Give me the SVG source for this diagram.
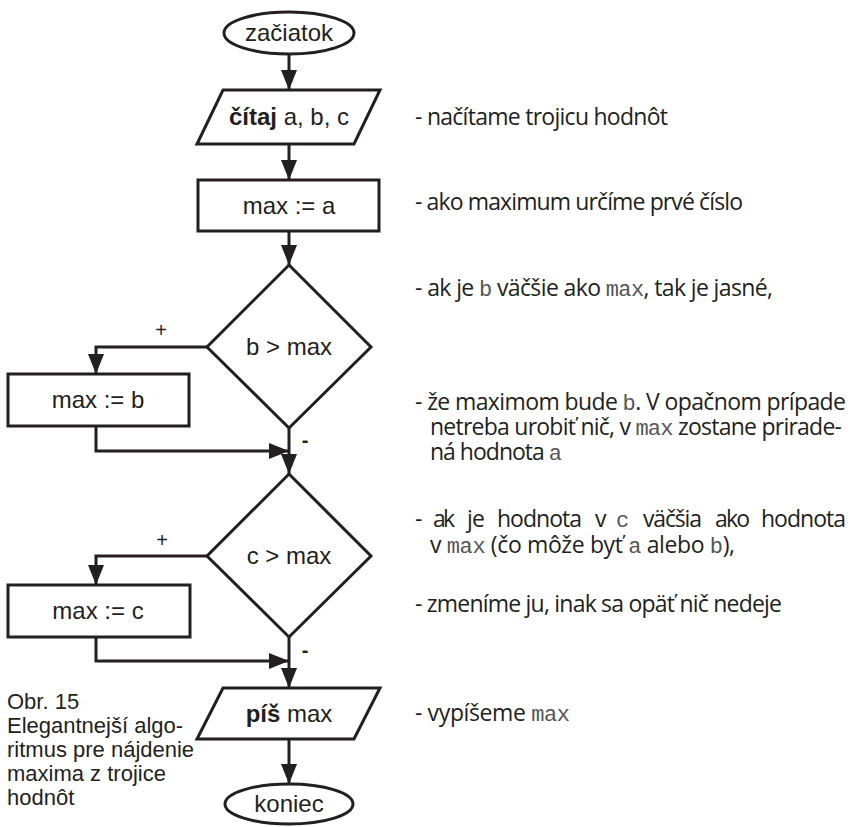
<svg xmlns="http://www.w3.org/2000/svg" width="852" height="827" viewBox="0 0 852 827">
<defs>
<style>
.shape{fill:#fff;stroke:#231f20;stroke-width:3}
.conn{fill:none;stroke:#231f20;stroke-width:3}
.nt{font-family:"Liberation Sans",Arial,sans-serif;font-size:24px;fill:#231f20;text-anchor:middle}
.b{font-weight:bold}
.lbl{font-family:"Liberation Sans",Arial,sans-serif;font-size:20px;fill:#231f20;text-anchor:middle}
.cap{font-family:"Liberation Sans",Arial,sans-serif;font-size:22px;fill:#231f20}
.r{font-family:"Open Sans","Noto Sans",sans-serif;font-size:23px;fill:#231f20}
.m{font-family:"Liberation Mono","Courier New",monospace;font-size:22px;fill:#555}
</style>
<marker id="ah" markerUnits="userSpaceOnUse" markerWidth="20" markerHeight="16" viewBox="0 0 20 16" refX="20" refY="8" orient="auto">
<path d="M0,0 L20,8 L0,16 Z" fill="#231f20"/>
</marker>
</defs>
<rect width="852" height="827" fill="#fff"/>

<g id="connectors">
<path class="conn" d="M289,54 V90" marker-end="url(#ah)"/>
<path class="conn" d="M289,144 V180" marker-end="url(#ah)"/>
<path class="conn" d="M289,231 V265" marker-end="url(#ah)"/>
<path class="conn" d="M207,347 H96 V374" marker-end="url(#ah)"/>
<path class="conn" d="M96,426 V451 H289" marker-end="url(#ah)"/>
<path class="conn" d="M289,428 V474" marker-end="url(#ah)"/>
<path class="conn" d="M207,556 H96 V585" marker-end="url(#ah)"/>
<path class="conn" d="M96,637 V661 H289" marker-end="url(#ah)"/>
<path class="conn" d="M289,637 V688" marker-end="url(#ah)"/>
<path class="conn" d="M289,739 V784" marker-end="url(#ah)"/>
<text class="lbl" x="161" y="337">+</text>
<text class="lbl b" x="305" y="447">-</text>
<text class="lbl" x="162" y="547">+</text>
<text class="lbl b" x="305" y="657">-</text>
</g>

<g id="start">
<ellipse class="shape" cx="289" cy="33" rx="65" ry="21"/>
<text class="nt" x="289" y="41">začiatok</text>
</g>
<g id="read">
<polygon class="shape" points="223,90 380,90 354,144 197,144"/>
<text class="nt" x="289" y="125"><tspan class="b">čítaj</tspan> a, b, c</text>
</g>
<g id="assign-a">
<rect class="shape" x="198" y="180" width="181" height="51"/>
<text class="nt" x="289" y="214">max := a</text>
</g>
<g id="cond-b">
<polygon class="shape" points="289,265 371,347 289,428 207,347"/>
<text class="nt" x="289" y="355">b &gt; max</text>
</g>
<g id="assign-b">
<rect class="shape" x="8" y="374" width="181" height="52"/>
<text class="nt" x="98" y="408">max := b</text>
</g>
<g id="cond-c">
<polygon class="shape" points="289,474 371,556 289,637 207,556"/>
<text class="nt" x="289" y="564">c &gt; max</text>
</g>
<g id="assign-c">
<rect class="shape" x="8" y="585" width="182" height="52"/>
<text class="nt" x="98" y="619">max := c</text>
</g>
<g id="write">
<polygon class="shape" points="223,688 380,688 354,739 197,739"/>
<text class="nt" x="289" y="722"><tspan class="b">píš</tspan> max</text>
</g>
<g id="end">
<ellipse class="shape" cx="289" cy="804" rx="64" ry="20"/>
<text class="nt" x="289" y="812">koniec</text>
</g>

<g id="caption">
<text class="cap" x="7" y="709">Obr. 15</text>
<text class="cap" x="7" y="733">Elegantnejší algo-</text>
<text class="cap" x="7" y="757">ritmus pre nájdenie</text>
<text class="cap" x="7" y="781">maxima z trojice</text>
<text class="cap" x="7" y="805">hodnôt</text>
</g>

<g id="notes">
<text class="r" x="415" y="125" textLength="253" lengthAdjust="spacing">- načítame trojicu hodnôt</text>
<text class="r" x="415" y="210" textLength="328" lengthAdjust="spacing">- ako maximum určíme prvé číslo</text>
<text class="r" x="415" y="296" textLength="358" lengthAdjust="spacing">- ak je <tspan class="m">b</tspan> väčšie ako <tspan class="m">max</tspan>, tak je jasné,</text>
<text class="r" x="415" y="410" textLength="431" lengthAdjust="spacing">- že maximom bude <tspan class="m">b</tspan>. V opačnom prípade</text>
<text class="r" x="430" y="435" textLength="412" lengthAdjust="spacing">netreba urobiť nič, v <tspan class="m">max</tspan> zostane prirade-</text>
<text class="r" x="430" y="460" textLength="132" lengthAdjust="spacing">ná hodnota <tspan class="m">a</tspan></text>
<text class="r" x="415" y="527">-</text>
<text class="r" x="433" y="527" textLength="22" lengthAdjust="spacing">ak</text>
<text class="r" x="467" y="527" textLength="18" lengthAdjust="spacing">je</text>
<text class="r" x="497" y="527" textLength="85" lengthAdjust="spacing">hodnota</text>
<text class="r" x="595" y="527">v</text>
<text class="m" x="616" y="527">c</text>
<text class="r" x="643" y="527" textLength="59" lengthAdjust="spacing">väčšia</text>
<text class="r" x="715" y="527" textLength="35" lengthAdjust="spacing">ako</text>
<text class="r" x="761" y="527" textLength="85" lengthAdjust="spacing">hodnota</text>
<text class="r" x="430" y="553" textLength="305" lengthAdjust="spacing">v <tspan class="m">max</tspan> (čo môže byť <tspan class="m">a</tspan> alebo <tspan class="m">b</tspan>),</text>
<text class="r" x="415" y="612" textLength="367" lengthAdjust="spacing">- zmeníme ju, inak sa opäť nič nedeje</text>
<text class="r" x="415" y="721" textLength="155" lengthAdjust="spacing">- vypíšeme <tspan class="m">max</tspan></text>
</g>
</svg>
